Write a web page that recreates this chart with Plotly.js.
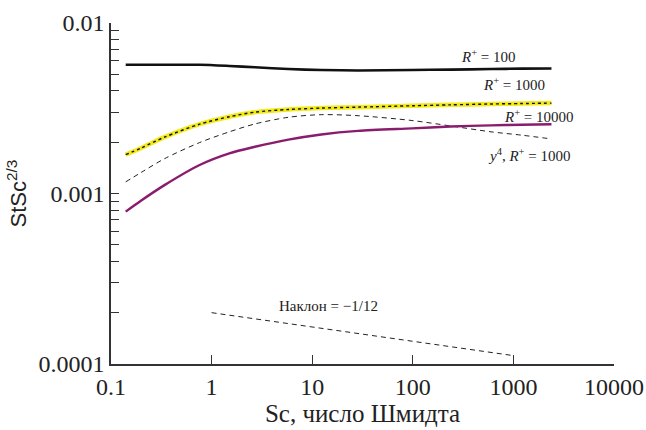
<!DOCTYPE html>
<html><head><meta charset="utf-8">
<script src="https://cdn.plot.ly/plotly-3.0.1.min.js"></script>
<style>
html,body{margin:0;padding:0;background:#fff}
#primer{position:absolute;left:-2000px;top:0;font-family:'Liberation Serif',serif;font-size:24px}
#primer2{position:absolute;left:-2000px;top:40px;font-family:'Liberation Sans',sans-serif;font-size:22px}
</style>
</head><body><div id="chart"></div>
<span id="primer">0.001 Sc, число Шмидта 10000</span><span id="primer2">StSc 2/3</span>
<script>
const sc = [0.14, 0.2, 0.34, 0.76, 1.5, 2.7, 5.8, 12.3, 28.6, 98, 238, 600, 1200, 2390];
const r100 = [0.00569, 0.00569, 0.00569, 0.00569, 0.0056, 0.0055, 0.00537, 0.0053, 0.00527, 0.0053, 0.00533, 0.00537, 0.0054, 0.00541];
const r1000 = [0.00169, 0.00185, 0.00214, 0.00255, 0.00282, 0.003, 0.00311, 0.00317, 0.00321, 0.00327, 0.00331, 0.00335, 0.00337, 0.00339];
const y4r1000 = [0.00117, 0.00133, 0.0016, 0.00199, 0.0023, 0.00256, 0.0028, 0.0029, 0.00286, 0.00268, 0.00249, 0.0023, 0.0022, 0.00209];
const r10000 = [0.000783, 0.00091, 0.00112, 0.00147, 0.00172, 0.00188, 0.00207, 0.00222, 0.00233, 0.00241, 0.00247, 0.00251, 0.00253, 0.00255];
const slopeX = [1, 1000];
const slopeY = [0.0002, 0.000112];
const xTickVals = [0.1, 1, 10, 100, 1000, 10000];
const xTickText = ["0.1", "1", "10", "100", "1000", "10000"];
const yDecades = [0.0001, 0.001, 0.01];
const yDecadeText = ["0.0001", "0.001", "0.01"];

const yTickVals = [], yTickText = [];
yDecades.forEach((d, i) => {
  yTickVals.push(d); yTickText.push(yDecadeText[i]);
  if (i < yDecades.length - 1) for (let k = 2; k <= 9; k++) { yTickVals.push(d * k); yTickText.push(''); }
});

const serif = "Liberation Serif";
const sans = "Liberation Sans";
const traces = [
  {x: sc, y: r100, mode: 'lines', line: {color: '#111', width: 2.6, shape: 'spline', smoothing: 0.8}},
  {x: sc, y: r1000, mode: 'lines', line: {color: '#f2ea1c', width: 4.5, shape: 'spline', smoothing: 0.8}},
  {x: sc, y: r1000, mode: 'lines', line: {color: '#111', width: 1.4, dash: 'dot', shape: 'spline', smoothing: 0.8}},
  {x: sc, y: y4r1000, mode: 'lines', line: {color: '#222', width: 1, dash: '5px,4px', shape: 'spline', smoothing: 0.8}},
  {x: sc, y: r10000, mode: 'lines', line: {color: '#8a1c6e', width: 2.4, shape: 'spline', smoothing: 0.8}},
  {x: slopeX, y: slopeY, mode: 'lines', line: {color: '#222', width: 1, dash: '5px,4px'}}
];

const annFont = {family: serif, size: 15, color: '#222'};
function ann(text, lx, ly) {
  return {text: text, x: lx, y: ly, xref: 'x', yref: 'y', showarrow: false, font: annFont, xanchor: 'center', yanchor: 'middle'};
}
const layout = {
  width: 646, height: 430,
  margin: {l: 111, r: 32, t: 23, b: 66},
  paper_bgcolor: '#fff', plot_bgcolor: '#fff',
  showlegend: false,
  font: {family: serif, size: 24, color: '#222'},
  xaxis: {
    type: 'log', range: [-1, 4], tickvals: xTickVals, ticktext: xTickText,
    ticks: 'inside', ticklen: 9, tickwidth: 1.3, tickcolor: '#333',
    showline: true, linecolor: '#333', linewidth: 1.5, showgrid: false, zeroline: false,
    tickfont: {family: serif, size: 24, color: '#222'},
    title: {text: 'Sc, число Шмидта', font: {family: serif, size: 25, color: '#222'}, standoff: 6}
  },
  yaxis: {
    type: 'log', range: [-4, -2], tickvals: yTickVals, ticktext: yTickText,
    ticks: 'inside', ticklen: 8, tickwidth: 1.2, tickcolor: '#333',
    showline: true, linecolor: '#333', linewidth: 1.5, showgrid: false, zeroline: false,
    tickfont: {family: serif, size: 24, color: '#222'},
    title: {text: 'StSc<sup>2/3</sup>', font: {family: sans, size: 22, color: '#222'}, standoff: 6}
  },
  annotations: [
    ann('<i>R</i><sup>+</sup> = 100', 2.748, -2.196),
    ann('<i>R</i><sup>+</sup> = 1000', 3.002, -2.358),
    ann('<i>R</i><sup>+</sup> = 10000', 3.25, -2.544),
    ann('<i>y</i><sup>4</sup>, <i>R</i><sup>+</sup> = 1000', 3.156, -2.773),
    ann('Наклон = −1/12', 1.159, -3.658)
  ]
};

let drawn = false;
function draw() {
  if (drawn) return; drawn = true;
  Plotly.newPlot('chart', traces, layout, {displayModeBar: false});
}
if (document.fonts && document.fonts.load) {
  Promise.all([
    document.fonts.load("24px 'Liberation Serif'"),
    document.fonts.load("22px 'Liberation Sans'")
  ]).then(draw, draw);
  setTimeout(draw, 300);
} else {
  draw();
}
</script></body></html>
